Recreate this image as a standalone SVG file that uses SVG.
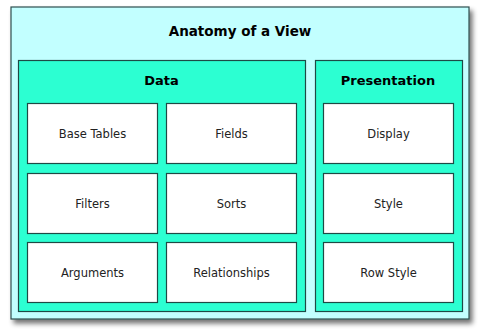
<svg xmlns="http://www.w3.org/2000/svg" width="480" height="334" viewBox="0 0 480 334">
<defs>
<filter id="sh" x="-10%" y="-10%" width="125%" height="125%">
<feGaussianBlur in="SourceAlpha" stdDeviation="2.5"/>
<feOffset dx="3" dy="4" result="b"/>
<feComponentTransfer><feFuncA type="linear" slope="0.55"/></feComponentTransfer>
<feMerge><feMergeNode/><feMergeNode in="SourceGraphic"/></feMerge>
</filter>
<style>
.outer{fill:#c2ffff;stroke:#2f4f4f;stroke-width:1.2}
.panel{fill:#2cffd2;stroke:#1d4a45;stroke-width:1.2}
.box{fill:#ffffff;stroke:#1d4a45;stroke-width:1.2}
.title{font-family:"DejaVu Sans",Verdana,sans-serif;font-weight:bold;font-size:13px;fill:#000;text-anchor:middle}
.main{font-size:13.5px}
.lbl{font-family:"DejaVu Sans",Verdana,sans-serif;font-size:11.5px;fill:#222;text-anchor:middle;dominant-baseline:central}
</style>
</defs>
<rect x="0" y="0" width="480" height="334" fill="#ffffff"/>
<g id="view">
<rect class="outer" x="11" y="7" width="458" height="312" filter="url(#sh)"/>
<text class="title main" x="240" y="36">Anatomy of a View</text>
</g>
<g id="data">
<rect class="panel" x="18.5" y="60.5" width="287" height="251"/>
<text class="title" x="161.5" y="85">Data</text>
</g>
<g id="presentation">
<rect class="panel" x="315.5" y="60.5" width="147" height="251"/>
<text class="title" x="388" y="85">Presentation</text>
</g>
<g id="base-tables"><rect class="box" x="27.5" y="103.5" width="130" height="60"/><text class="lbl" x="92.5" y="133.5">Base Tables</text></g>
<g id="fields"><rect class="box" x="166.5" y="103.5" width="130" height="60"/><text class="lbl" x="231.5" y="133.5">Fields</text></g>
<g id="filters"><rect class="box" x="27.5" y="173.5" width="130" height="60"/><text class="lbl" x="92.5" y="203.5">Filters</text></g>
<g id="sorts"><rect class="box" x="166.5" y="173.5" width="130" height="60"/><text class="lbl" x="231.5" y="203.5">Sorts</text></g>
<g id="arguments"><rect class="box" x="27.5" y="242.5" width="130" height="60"/><text class="lbl" x="92.5" y="272.5">Arguments</text></g>
<g id="relationships"><rect class="box" x="166.5" y="242.5" width="130" height="60"/><text class="lbl" x="231.5" y="272.5">Relationships</text></g>
<g id="display"><rect class="box" x="323.5" y="103.5" width="130" height="60"/><text class="lbl" x="388.5" y="133.5">Display</text></g>
<g id="style"><rect class="box" x="323.5" y="173.5" width="130" height="60"/><text class="lbl" x="388.5" y="203.5">Style</text></g>
<g id="row-style"><rect class="box" x="323.5" y="242.5" width="130" height="60"/><text class="lbl" x="388.5" y="272.5">Row Style</text></g>
<g id="connectors"></g>
</svg>
